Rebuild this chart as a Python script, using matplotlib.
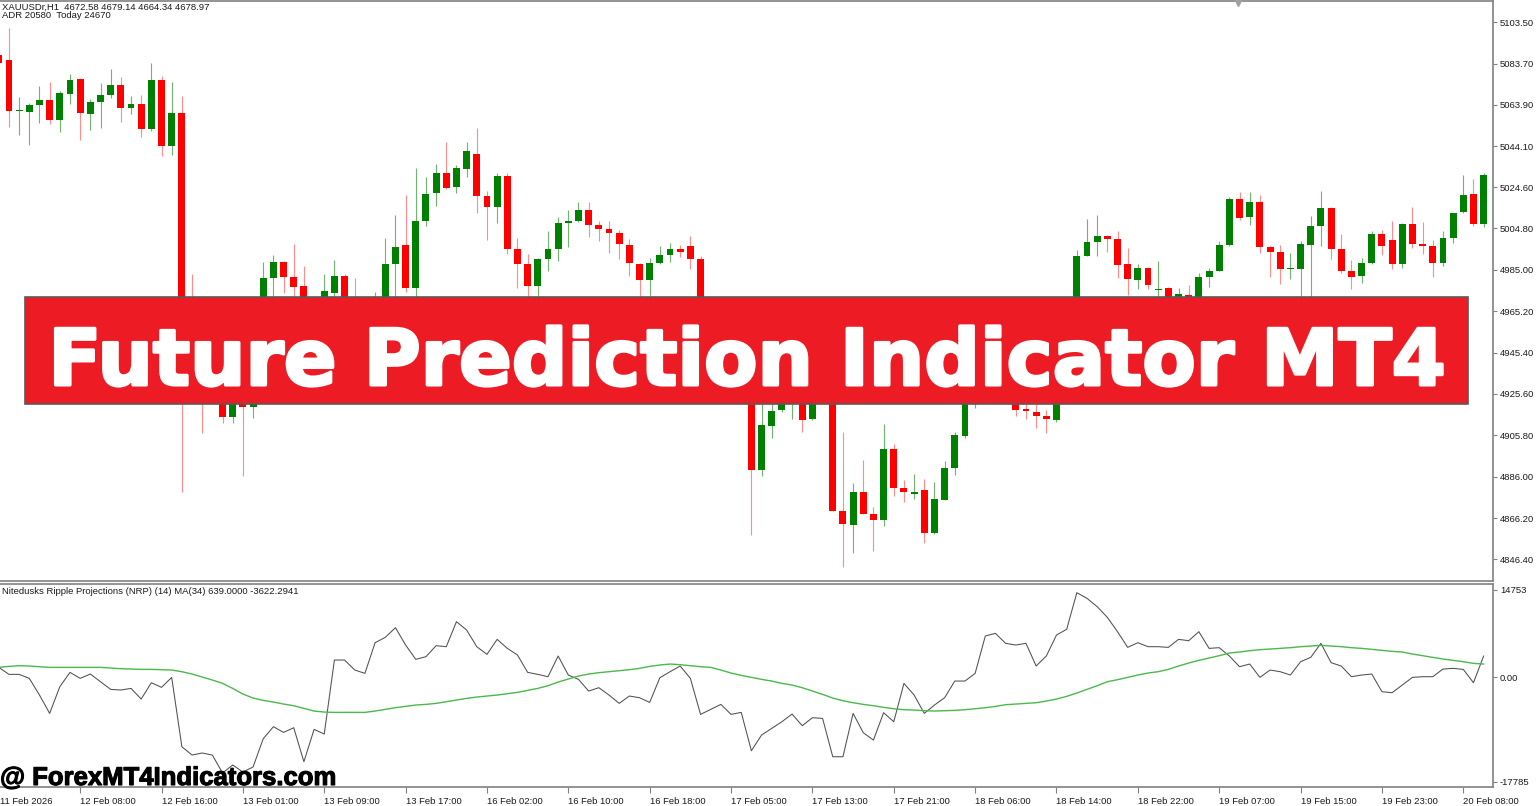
import numpy as np
import matplotlib.pyplot as plt
import matplotlib.patheffects as pe
from matplotlib.patches import Rectangle
from matplotlib.transforms import blended_transform_factory

# XAUUSD H1 candles, 11 Feb 23:00 .. 20 Feb 08:00 (hidden ones behind the banner are guesses)
opens = [5087.8, 5085.4, 5061.0, 5060.5, 5063.9, 5066.3, 5056.7, 5069.1, 5076.3, 5059.6,
         5065.3, 5068.7, 5073.5, 5062.4, 5064.4, 5052.4, 5075.8, 5044.3, 5060.0, 4946.0,
         4936.0, 4926.0, 4935.0, 4914.6, 4925.0, 4919.3, 4930.0, 4981.1, 4988.7, 4981.6,
         4977.2, 4965.0, 4968.0, 4973.9, 4982.0, 4964.0, 4957.0, 4963.0, 4970.0, 4987.8,
         4996.9, 4976.3, 5008.4, 5021.8, 5031.3, 5024.6, 5033.2, 5040.4, 5020.3, 5015.0,
         5029.9, 4994.9, 4987.8, 4977.2, 4990.2, 4994.9, 5007.4, 5008.4, 5013.6, 5006.4,
         5004.5, 5002.6, 4996.9, 4987.8, 4980.1, 4988.2, 4992.1, 4994.9, 4996.4, 4990.2,
         4955.0, 4962.0, 4950.0, 4945.0, 4952.0, 4889.2, 4910.2, 4917.9, 4924.0, 4926.0,
         4913.6, 4926.0, 4930.0, 4869.6, 4862.9, 4878.7, 4868.1, 4865.2, 4899.2, 4880.6,
         4877.9, 4879.6, 4859.0, 4874.8, 4890.1, 4905.5, 4930.0, 4945.0, 4955.0, 4948.0,
         4935.0, 4918.4, 4916.9, 4915.0, 4913.1, 4935.0, 4962.0, 4991.6, 4998.3, 5001.2,
         4999.7, 4987.8, 4980.1, 4985.9, 4975.5, 4976.3, 4966.0, 4972.9, 4966.0, 4981.6,
         4984.4, 4996.9, 5018.9, 5010.3, 5017.4, 4995.9, 4993.5, 4985.2, 4985.4, 4996.9,
         5006.0, 5014.6, 4994.9, 4984.4, 4982.0, 4988.2, 5002.1, 4999.3, 4987.8, 5006.9,
         4997.3, 4996.4, 4988.2, 5000.2, 5012.7, 5021.3, 5006.9]
highs = [5090.2, 5100.7, 5067.7, 5064.8, 5073.0, 5074.9, 5070.6, 5078.7, 5076.6, 5066.8,
         5074.4, 5081.1, 5077.3, 5068.2, 5068.7, 5084.0, 5077.8, 5074.9, 5068.2, 4983.0,
         4940.0, 4942.0, 4938.0, 4930.0, 4932.0, 4936.0, 4988.7, 4992.1, 4989.2, 4997.3,
         4986.8, 4971.0, 4983.0, 4989.7, 4983.0, 4981.1, 4968.0, 4974.4, 5000.2, 5011.2,
         5020.8, 5033.7, 5029.4, 5035.6, 5046.2, 5035.2, 5046.2, 5052.9, 5022.7, 5031.3,
         5031.3, 5000.2, 4992.6, 4990.6, 5003.6, 5010.3, 5013.6, 5017.4, 5017.4, 5008.4,
         5008.4, 5004.1, 4999.7, 4988.2, 4990.6, 4996.4, 4997.8, 4996.9, 5001.2, 4991.6,
         4968.0, 4966.0, 4958.0, 4960.0, 4956.0, 4928.0, 4924.0, 4930.0, 4933.0, 4935.0,
         4932.0, 4936.0, 4934.0, 4907.4, 4883.0, 4894.0, 4871.5, 4911.2, 4901.6, 4884.4,
         4887.3, 4884.9, 4883.4, 4893.5, 4907.4, 4936.0, 4952.0, 4962.0, 4960.0, 4952.0,
         4940.0, 4926.0, 4922.0, 4917.9, 4942.0, 4968.0, 4994.5, 5009.3, 5011.2, 5001.7,
         5003.6, 4995.4, 4987.8, 4986.3, 4989.2, 4976.8, 4976.3, 4977.7, 4983.5, 4985.9,
         4998.8, 5019.8, 5022.2, 5022.2, 5020.8, 4996.4, 4996.9, 4993.0, 4998.8, 5010.8,
         5022.7, 5015.1, 5002.1, 4989.7, 4990.6, 5003.6, 5004.1, 5008.4, 5007.4, 5015.1,
         5007.9, 4999.3, 5003.6, 5012.4, 5030.4, 5028.5, 5031.3]
lows = [5081.6, 5053.3, 5049.5, 5044.7, 5055.3, 5054.8, 5051.0, 5064.4, 5047.1, 5051.9,
        5052.9, 5067.2, 5055.7, 5059.6, 5048.6, 5051.4, 5039.5, 5039.9, 4878.7, 4930.0,
        4906.9, 4921.0, 4911.7, 4911.7, 4886.3, 4914.1, 4926.0, 4972.5, 4973.9, 4970.0,
        4960.0, 4955.0, 4958.0, 4970.0, 4958.0, 4952.0, 4950.0, 4958.0, 4962.0, 4970.5,
        4974.4, 4972.0, 5006.0, 5015.5, 5023.7, 5021.8, 5029.4, 5012.2, 4999.3, 5007.4,
        4992.6, 4976.3, 4965.0, 4968.0, 4984.4, 4989.2, 4995.9, 5008.0, 5000.7, 4998.8,
        4993.0, 4990.2, 4982.0, 4968.0, 4970.0, 4988.0, 4988.7, 4991.1, 4985.4, 4950.0,
        4948.0, 4944.0, 4938.0, 4940.0, 4858.1, 4886.3, 4904.5, 4916.9, 4913.6, 4907.4,
        4913.1, 4921.0, 4869.4, 4842.8, 4849.5, 4867.9, 4850.4, 4862.4, 4876.7, 4873.9,
        4875.3, 4854.2, 4858.6, 4874.6, 4886.8, 4904.5, 4918.9, 4940.0, 4940.0, 4930.0,
        4915.0, 4913.6, 4909.3, 4906.9, 4912.1, 4930.0, 4958.0, 4991.4, 4991.6, 4993.5,
        4981.1, 4972.9, 4975.8, 4975.8, 4965.0, 4962.0, 4960.0, 4960.0, 4962.0, 4976.8,
        4984.2, 4996.4, 5008.8, 5006.4, 4993.0, 4981.6, 4978.2, 4980.6, 4965.0, 4960.0,
        4996.4, 4990.2, 4983.5, 4975.8, 4978.7, 4987.8, 4992.1, 4985.4, 4985.9, 4995.4,
        4992.6, 4981.6, 4986.8, 4997.8, 5012.2, 5006.0, 5005.5]
closes = [5084.0, 5061.0, 5061.5, 5063.9, 5066.3, 5056.7, 5069.6, 5075.8, 5060.0, 5065.3,
          5068.7, 5073.5, 5062.4, 5064.4, 5052.4, 5075.8, 5044.3, 5060.0, 4946.0, 4936.0,
          4926.0, 4935.0, 4914.6, 4925.0, 4919.3, 4930.0, 4981.1, 4988.7, 4981.6, 4976.8,
          4965.0, 4968.0, 4974.9, 4982.0, 4962.0, 4957.0, 4963.0, 4970.0, 4987.8, 4995.9,
          4976.3, 5008.4, 5021.3, 5031.3, 5024.2, 5033.7, 5041.9, 5020.3, 5015.0, 5029.9,
          4994.9, 4987.8, 4977.2, 4990.2, 4994.9, 5007.4, 5008.4, 5013.6, 5006.4, 5004.5,
          5002.6, 4997.3, 4988.2, 4980.1, 4988.2, 4992.1, 4994.9, 4993.5, 4990.2, 4955.0,
          4962.0, 4950.0, 4945.0, 4952.0, 4889.2, 4910.7, 4917.4, 4924.0, 4926.0, 4913.1,
          4926.0, 4930.0, 4869.6, 4863.3, 4878.7, 4868.1, 4865.2, 4899.2, 4880.6, 4878.7,
          4878.5, 4859.0, 4875.3, 4890.1, 4905.9, 4930.0, 4945.0, 4955.0, 4948.0, 4935.0,
          4917.9, 4917.4, 4915.0, 4913.6, 4935.0, 4962.0, 4991.6, 4998.3, 5001.2, 4999.7,
          4987.3, 4980.6, 4985.9, 4977.7, 4976.0, 4968.0, 4973.4, 4966.0, 4981.6, 4984.4,
          4996.9, 5018.9, 5009.8, 5017.4, 4995.9, 4993.5, 4985.4, 4985.6, 4997.3, 5006.0,
          5014.6, 4994.9, 4984.4, 4981.6, 4988.2, 5002.1, 4996.4, 4987.8, 5006.9, 4997.3,
          4996.4, 4988.2, 5000.2, 5012.2, 5020.8, 5006.9, 5030.4]

# Nitedusks Ripple Projections (black) and its MA(34) (green)
nrp = [1639, 452, 452, -226, -3052, -6161, -1639, 791, -226, 509,
       -791, -2091, -2204, -1922, -3730, -961, -1752, -57, -11813, -13214,
       -12876, -13226, -16266, -14910, -16096, -15249, -10456, -8422, -9382, -8591,
       -14356, -8874, -9665, 2883, 2883, 1187, 622, 5822, 6726, 8365,
       5426, 2996, 3448, 5313, 5143, 9382, 7969, 5143, 3843, 6387,
       4861, 3730, 791, 452, 57, 3561, 339, -396, -2374, -1809,
       -3052, -4465, -3222, -3504, -4296, -113, 904, 1865, -226, -6330,
       -5482, -4635, -6330, -5991, -12491, -9834, -8704, -7574, -6274, -8252,
       -6896, -7008, -13508, -13508, -6161, -9439, -10682, -6048, -7574, -1074,
       -3052, -6161, -4748, -3504, -678, -678, 622, 6952, 7404, 5709,
       5426, 5709, 1865, 3561, 7122, 8082, 14300, 13339, 11926, 10117,
       7687, 5030, 5822, 5143, 5143, 5030, 6387, 6161, 7687, 4861,
       4974, 3561, 1752, 2204, -57, 1187, 904, 339, 2600, 3335,
       5709, 2430, 1865, 57, 339, 509, -2487, -2656, -1356, -57,
       57, 57, 1356, 1470, 1300, -961, 3561]
nrp_ma = [1639, 1809, 1922, 1865, 1752, 1639, 1639, 1639, 1639, 1639,
          1639, 1526, 1413, 1356, 1300, 1300, 1243, 1187, 904, 509,
          0, -509, -1074, -1922, -2883, -3561, -3956, -4239, -4578, -4861,
          -5313, -5765, -5935, -5991, -5991, -5991, -5991, -5765, -5482, -5200,
          -4974, -4748, -4635, -4465, -4182, -3900, -3617, -3391, -3222, -3052,
          -2826, -2600, -2261, -1922, -1470, -848, -339, 170, 509, 735,
          904, 1074, 1243, 1470, 1809, 2035, 2204, 2091, 1922, 1752,
          1639, 1187, 678, 283, -57, -396, -678, -1074, -1356, -1809,
          -2374, -2939, -3561, -4013, -4352, -4635, -4861, -5143, -5369, -5539,
          -5595, -5709, -5765, -5709, -5652, -5539, -5369, -5200, -4974, -4691,
          -4578, -4465, -4352, -4069, -3730, -3278, -2713, -2091, -1470, -791,
          -452, -57, 339, 678, 904, 1300, 1865, 2374, 2826, 3222,
          3617, 4069, 4239, 4465, 4635, 4748, 4861, 4974, 5143, 5256,
          5369, 5256, 5143, 4974, 4861, 4691, 4522, 4352, 4239, 3900,
          3617, 3335, 3052, 2826, 2600, 2317, 2204]

price_ticks = [5103.50, 5083.70, 5063.90, 5044.10, 5024.60, 5004.80, 4985.00,
               4965.20, 4945.40, 4925.60, 4905.80, 4886.00, 4866.20, 4846.40]
time_labels = ["12 Feb 08:00", "12 Feb 16:00", "13 Feb 01:00", "13 Feb 09:00",
               "13 Feb 17:00", "16 Feb 02:00", "16 Feb 10:00", "16 Feb 18:00",
               "17 Feb 05:00", "17 Feb 13:00", "17 Feb 21:00", "18 Feb 06:00",
               "18 Feb 14:00", "18 Feb 22:00", "19 Feb 07:00", "19 Feb 15:00",
               "19 Feb 23:00", "20 Feb 08:00"]

W, H = 1536, 806
fig = plt.figure(figsize=(W / 100, H / 100), dpi=100)
fig.patch.set_facecolor("white")
lab_font = {"family": "Liberation Sans", "size": 6.8, "color": "#1a1a1a"}

ax = fig.add_axes([0, 1 - 581 / H, 1493 / W, 580 / H])
sub = fig.add_axes([0, 1 - 787 / H, 1493 / W, 203 / H])

x = np.arange(len(opens))
o = np.array(opens)
c = np.array(closes)
up = c >= o
body_col = np.where(up, "#008000", "#ff0000")
wick_col = np.where(up, "#6fb46f", "#ff8c8c")
ax.vlines(x, lows, highs, colors=wick_col, lw=0.8, zorder=2)
ax.bar(x, np.maximum(np.abs(c - o), 0.55), bottom=np.minimum(o, c), width=0.68,
       color=body_col, linewidth=0, zorder=3)

xlim = (0.118, 146.92)
ax.set_xlim(*xlim)
ax.set_ylim(4836.06, 5113.65)
ax.set_xticks([])
ax.yaxis.tick_right()
ax.set_yticks(price_ticks)
ax.set_yticklabels([f"{p:.2f}" for p in price_ticks], fontdict=lab_font)
ax.tick_params(axis="y", length=3, width=0.8, color="#808080", pad=2)

sub.plot(x, nrp, color="#505050", lw=0.75)
sub.plot(x, nrp_ma, color="#4cb84c", lw=1.0)
sub.set_xlim(*xlim)
sub.set_ylim(-18639, 15770)
sub.yaxis.tick_right()
sub.set_yticks([14753, 0, -17785])
sub.set_yticklabels(["14753", "0.00", "-17785"], fontdict=lab_font)
sub.tick_params(axis="y", length=3, width=0.8, color="#808080", pad=2)
sub.set_xticks(np.arange(8, 145, 8))
sub.set_xticklabels(time_labels, fontdict=lab_font, ha="left")
sub.tick_params(axis="x", length=4, width=0.8, color="#808080", pad=3)
trans = blended_transform_factory(sub.transData, sub.transAxes)
sub.text(xlim[0], -0.047, "11 Feb 2026", transform=trans, ha="left", va="top",
         fontdict=lab_font)

for a in (ax, sub):
    a.set_facecolor("white")
    a.spines["left"].set_visible(False)
    for s in ("top", "right", "bottom"):
        a.spines[s].set_color("#808080")
        a.spines[s].set_linewidth(1.2)

fig.text(2 / W, 1 - 7 / H, "XAUUSDr,H1  4672.58 4679.14 4664.34 4678.97",
         va="center", ha="left", fontdict=lab_font)
fig.text(2 / W, 1 - 16 / H, "ADR 20580  Today 24670", va="center", ha="left",
         fontdict=lab_font)
fig.text(2 / W, 1 - 591 / H,
         "Nitedusks Ripple Projections (NRP) (14) MA(34) 639.0000 -3622.2941",
         va="center", ha="left", fontdict=lab_font)

# overlay: banner, watermark, shift marker
ov = fig.add_axes([0, 0, 1, 1], zorder=10)
ov.set_xlim(0, W)
ov.set_ylim(H, 0)
ov.axis("off")
ov.patch.set_alpha(0)
ov.add_patch(Rectangle((25, 297), 1443, 107, facecolor="#ed1c24",
                       edgecolor="#5a5a5a", lw=1.2))
ov.text(747, 385, "Future Prediction Indicator MT4", color="white",
        fontsize=56, fontweight="bold", family="DejaVu Sans",
        ha="center", va="baseline",
        path_effects=[pe.withStroke(linewidth=2.2, foreground="white")])
ov.text(0, 785, "@ ForexMT4Indicators.com", color="black", fontsize=18.5,
        fontweight="bold", family="Liberation Sans", ha="left", va="baseline",
        path_effects=[pe.withStroke(linewidth=0.8, foreground="black")])
ov.plot([1238], [2], marker="v", color="#a0a0a0", ms=6, clip_on=False)

fig.savefig("out.png", dpi=100)
